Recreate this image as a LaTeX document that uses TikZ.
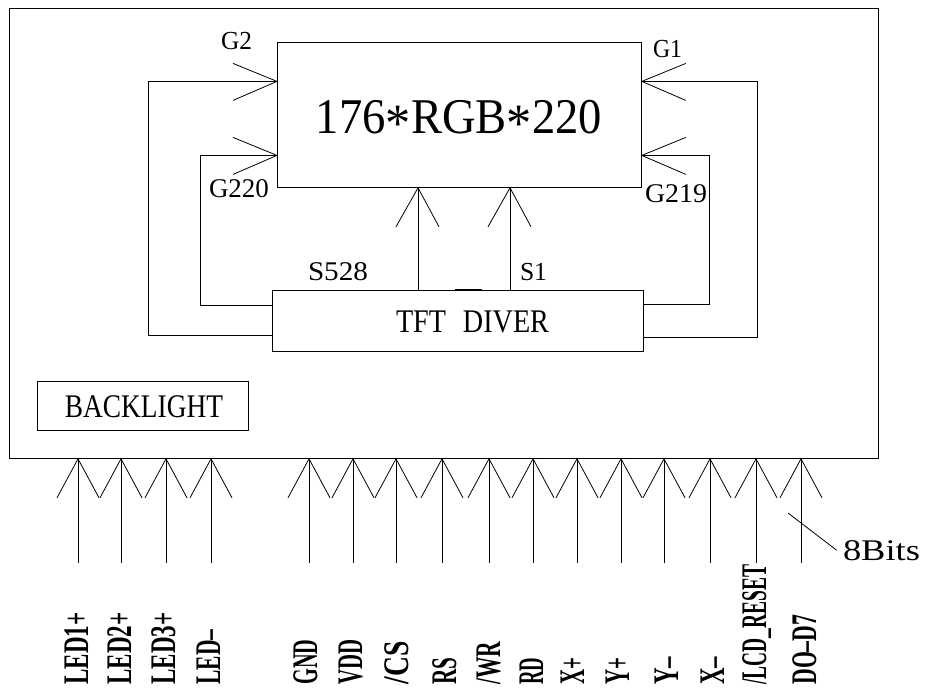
\documentclass[tikz,border=0pt]{standalone}
\usepackage{fontspec}
\setmainfont{Liberation Serif}
\usepackage{graphicx}
\usetikzlibrary{calc}
\newcommand{\fitw}[2]{\resizebox{#1}{\height}{#2}}
\newcommand{\fsz}[1]{\fontsize{#1}{#1}\selectfont}
\newcommand{\bigast}{\raisebox{-8pt}{\fsz{54}*}}
\begin{document}
\begin{tikzpicture}[x=1pt,y=-1pt,line width=0.8pt,
  box/.style={draw, inner sep=0pt, anchor=north west},
  lbl/.style={inner sep=0pt, anchor=base},
  plbl/.style={inner sep=0pt, anchor=base west, rotate=90, font=\fsz{36}\bfseries}]
\useasboundingbox (0,0) rectangle (925,691);
\fill[white] (0,0) rectangle (925,691);

% boxes
\node[box, minimum width=869pt, minimum height=450pt] (outer) at (9,8) {};
\node[box, minimum width=364pt, minimum height=145pt] (disp) at (277,42) {};
\node[box, minimum width=371pt, minimum height=61pt] (tft) at (272,290) {};
\node[box, minimum width=211pt, minimum height=49pt] (bl) at (37,381) {};

% texts
\node[lbl, font=\fsz{50}] (title) at (459,133) {\fitw{286pt}{176\bigast RGB\bigast 220}};
\node[lbl, font=\fsz{33}] (tftt) at (472.5,332) {\fitw{153pt}{TFT\hspace{0.35em} DIVER}};
\node[lbl, font=\fsz{33}] (blt) at (144,417) {\fitw{158pt}{BACKLIGHT}};
\node[lbl, font=\fsz{26}] (lg2) at (236.5,49) {\fitw{31pt}{G2}};
\node[lbl, font=\fsz{27}] (lg220) at (239,197) {\fitw{60pt}{G220}};
\node[lbl, font=\fsz{26}] (lg1) at (667.5,57) {\fitw{29pt}{G1}};
\node[lbl, font=\fsz{27}] (lg219) at (676,202) {\fitw{62pt}{G219}};
\node[lbl, font=\fsz{27}] (ls528) at (338,280) {\fitw{60pt}{S528}};
\node[lbl, font=\fsz{26}] (ls1) at (533.5,280) {\fitw{27pt}{S1}};
\node[lbl, font=\fsz{30}] (bits) at (881.5,560) {\fitw{77pt}{8Bits}};

% gate lines
\coordinate (g2) at ([yshift=33.5pt]disp.west);
\coordinate (g220) at ([yshift=-40.5pt]disp.west);
\coordinate (g1) at ([yshift=33.5pt]disp.east);
\coordinate (g219) at ([yshift=-40.5pt]disp.east);
\draw ([yshift=-14.5pt]tft.west) -- ++(-124,0) |- (g2);
\draw ([yshift=15.5pt]tft.west) -- ++(-72,0) |- (g220);
\draw ([yshift=-16.5pt]tft.east) -- ++(114,0) |- (g1);
\draw ([yshift=16.5pt]tft.east) -- ++(66,0) |- (g219);
\foreach \c in {g2,g220} \draw ($(\c)+(-44,-18)$) -- (\c) -- ($(\c)+(-44,19)$);
\foreach \c in {g1,g219} \draw ($(\c)+(44,-18)$) -- (\c) -- ($(\c)+(44,19)$);

% source lines
\coordinate (sa) at (418,0);
\coordinate (sb) at (510,0);
\foreach \c in {sa,sb} {
  \draw (tft.north -| \c) -- (disp.south -| \c);
  \draw ($(disp.south -| \c)+(-22,39)$) -- (disp.south -| \c) -- ($(disp.south -| \c)+(21,39)$);
}
\draw[line width=2pt] ([xshift=-2.5pt]tft.north) -- ++(27,0);

% pins
\foreach \px/\lx/\w/\t in {78/88/72/{LED1+},121/131/72/{LED2+},166/175/72/{LED3+},211/220/55/{LED–},
  309/317/45/{GND},353/362/45/{VDD},396/408/43/{/CS},442/456/27/{RS},489/500/43/{/WR},533/543/27/{RD},
  577/584/27/{X+},621/629/27/{Y+},664/678/28/{Y–},710/724/28/{X–},756/766/120/{/LCD\_RESET},801/816/70/{DO–D7}} {
  \coordinate (c\px) at (\px,0);
  \draw (outer.south -| c\px) -- ++(0,104);
  \draw ($(outer.south -| c\px)+(-21,39)$) -- (outer.south -| c\px) -- ($(outer.south -| c\px)+(21,39)$);
  \node[plbl] (l\px) at (\lx,685) {\fitw{\w pt}{\t}};
}
\coordinate (bitsend) at (788,513);
\draw (bitsend) -- ([xshift=-6pt]bits.west);
\end{tikzpicture}
\end{document}
